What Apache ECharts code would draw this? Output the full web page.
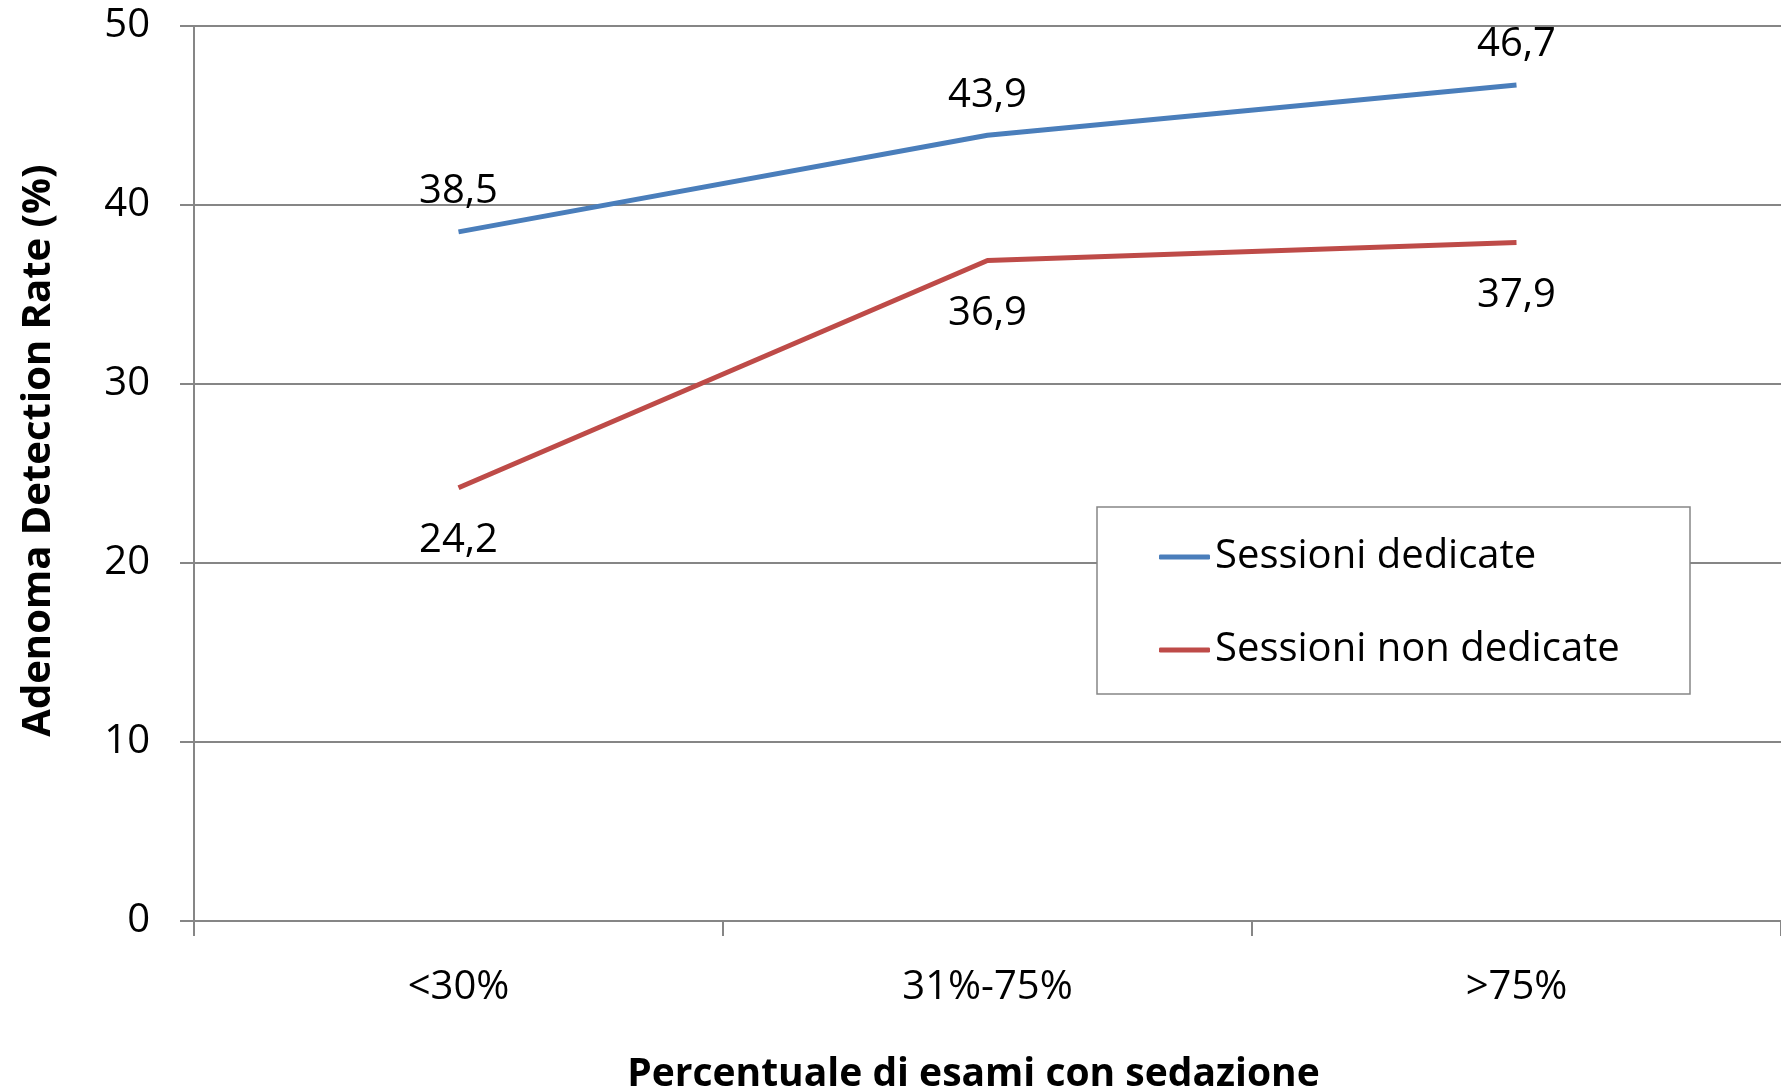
<!DOCTYPE html>
<html>
<head>
<meta charset="utf-8">
<title>Adenoma Detection Rate</title>
<script src="https://cdn.jsdelivr.net/npm/echarts@6/dist/echarts.min.js"></script>
<style>
  html, body { margin: 0; padding: 0; background: #ffffff; }
  #chart { width: 1781px; height: 1091px; }
</style>
</head>
<body>
<div id="chart"></div>
<script>
// Sedation share bands on the x axis
const categories = ['<30%', '31%-75%', '>75%'];
// Adenoma detection rate (%) per session type
const sessioniDedicate = [38.5, 43.9, 46.7];
const sessioniNonDedicate = [24.2, 36.9, 37.9];
const seriesNames = ['Sessioni dedicate', 'Sessioni non dedicate'];
// Value axis ticks
const yTicks = [0, 10, 20, 30, 40, 50];

const FONT = "'Open Sans', 'Noto Sans', sans-serif";
const GRAY = '#868686';
const BLUE = '#4a7ebb';
const RED = '#be4b48';

// Italian decimal comma
const fmt = p => String(p.value).replace('.', ',');

const chart = echarts.init(document.getElementById('chart'));
chart.setOption({
  backgroundColor: '#ffffff',
  animation: false,
  grid: { left: 194, right: 0, top: 26, bottom: 170, outerBoundsMode: 'none', containLabel: false },
  legend: {
    orient: 'vertical',
    left: 1097,
    top: 507,
    padding: [27, 59, 21, 62],
    backgroundColor: '#ffffff',
    borderColor: GRAY,
    borderWidth: 1.5,
    borderRadius: 0,
    icon: 'roundRect',
    itemWidth: 51,
    itemHeight: 5,
    itemGap: 47,
    textStyle: { fontFamily: FONT, fontSize: 40, color: '#000', width: 416, lineHeight: 46 },
    data: seriesNames
  },
  xAxis: {
    type: 'category',
    data: categories,
    boundaryGap: true,
    axisLine: { lineStyle: { color: GRAY, width: 2 } },
    axisTick: { show: true, length: 15, lineStyle: { color: GRAY, width: 2 } },
    axisLabel: { fontFamily: FONT, fontSize: 40, color: '#000', margin: 47 },
    name: 'Percentuale di esami con sedazione',
    nameLocation: 'middle',
    nameGap: 134,
    nameTextStyle: { fontFamily: FONT, fontSize: 39, fontWeight: 'bold', color: '#000', padding: [0, 28, 0, 0] }
  },
  yAxis: {
    type: 'value',
    min: yTicks[0],
    max: yTicks[yTicks.length - 1],
    interval: yTicks[1] - yTicks[0],
    axisLine: { show: true, lineStyle: { color: GRAY, width: 2 } },
    axisTick: { show: true, length: 14, lineStyle: { color: GRAY, width: 2 } },
    splitLine: { show: true, lineStyle: { color: GRAY, width: 2 } },
    axisLabel: { fontFamily: FONT, fontSize: 40, color: '#000', margin: 44 },
    name: 'Adenoma Detection Rate (%)',
    nameLocation: 'middle',
    nameGap: 135,
    nameRotate: 90,
    nameTextStyle: { fontFamily: FONT, fontSize: 40, fontWeight: 'bold', color: '#000', padding: [0, 0, 0, 46] }
  },
  series: [
    {
      name: seriesNames[0],
      type: 'line',
      data: sessioniDedicate,
      symbol: 'circle',
      symbolSize: 0,
      showSymbol: true,
      lineStyle: { color: BLUE, width: 5 },
      itemStyle: { color: BLUE },
      label: {
        show: true, position: 'top', distance: 20, formatter: fmt,
        fontFamily: FONT, fontSize: 40, color: '#000'
      }
    },
    {
      name: seriesNames[1],
      type: 'line',
      data: sessioniNonDedicate,
      symbol: 'circle',
      symbolSize: 0,
      showSymbol: true,
      lineStyle: { color: RED, width: 5 },
      itemStyle: { color: RED },
      label: {
        show: true, position: 'bottom', distance: 33, formatter: fmt,
        fontFamily: FONT, fontSize: 40, color: '#000'
      }
    }
  ]
});
</script>
</body>
</html>
